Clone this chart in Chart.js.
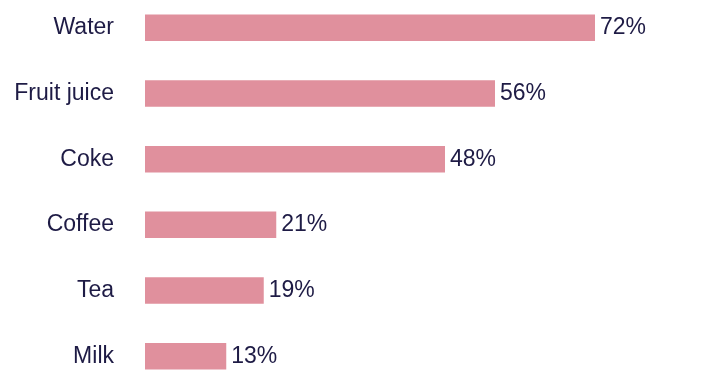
<!DOCTYPE html>
<html>
<head>
<meta charset="utf-8">
<script src="https://cdn.jsdelivr.net/npm/chart.js@4/dist/chart.umd.min.js"></script>
<style>
  html, body { margin: 0; padding: 0; background: #ffffff; overflow: hidden; width: 710px; height: 380px; }
  #wrap { position: absolute; left: 0; top: -5.4px; width: 710px; height: 394px; }
</style>
</head>
<body>
<div id="wrap"><canvas id="c" width="710" height="394"></canvas></div>
<script>
const categories = ["Water", "Fruit juice", "Coke", "Coffee", "Tea", "Milk"];
const values = [72, 56, 48, 21, 19, 13];
const valueLabels = ["72%", "56%", "48%", "21%", "19%", "13%"];

const textColor = "#1e1b45";
const barColor = "#e0909d";
const fontFamily = "'Liberation Sans', Arial, Helvetica, sans-serif";

const valueLabelPlugin = {
  id: "valueLabels",
  afterDatasetsDraw(chart) {
    const ctx = chart.ctx;
    const meta = chart.getDatasetMeta(0);
    ctx.save();
    ctx.font = "23px " + fontFamily;
    ctx.fillStyle = textColor;
    ctx.textAlign = "left";
    ctx.textBaseline = "middle";
    meta.data.forEach((bar, i) => {
      ctx.fillText(valueLabels[i], bar.x + 5, bar.y);
    });
    ctx.restore();
  }
};

new Chart(document.getElementById("c"), {
  type: "bar",
  data: {
    labels: categories,
    datasets: [{
      data: values,
      backgroundColor: barColor,
      borderWidth: 0,
      categoryPercentage: 1,
      barPercentage: 0.404
    }]
  },
  options: {
    indexAxis: "y",
    responsive: false,
    animation: false,
    devicePixelRatio: 1,
    layout: { padding: { left: 0, right: 2.5, top: 0, bottom: 0 } },
    plugins: { legend: { display: false }, tooltip: { enabled: false } },
    scales: {
      x: { display: false, min: 0, max: 90 },
      y: {
        grid: { display: false, drawTicks: false },
        border: { display: false },
        ticks: {
          color: textColor,
          font: { family: fontFamily, size: 23 },
          padding: 31
        },
        afterFit(scale) {
          scale.width = 145;
          scale.paddingTop = 0;
          scale.paddingBottom = 0;
        }
      }
    }
  },
  plugins: [valueLabelPlugin]
});
</script>
</body>
</html>
